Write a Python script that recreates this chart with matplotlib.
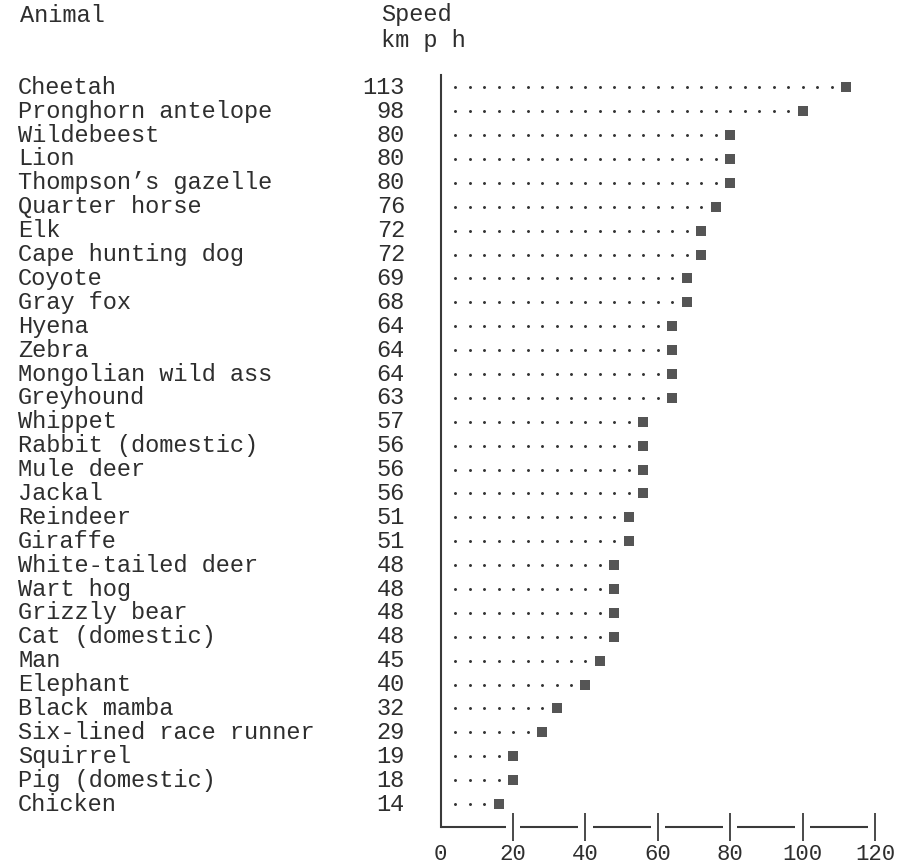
import numpy as np
import matplotlib
matplotlib.use("Agg")
import matplotlib.pyplot as plt
from matplotlib.transforms import blended_transform_factory

animals = ["Cheetah", "Pronghorn antelope", "Wildebeest", "Lion", "Thompson\u2019s gazelle",
           "Quarter horse", "Elk", "Cape hunting dog", "Coyote", "Gray fox", "Hyena",
           "Zebra", "Mongolian wild ass", "Greyhound", "Whippet", "Rabbit (domestic)",
           "Mule deer", "Jackal", "Reindeer", "Giraffe", "White-tailed deer", "Wart hog",
           "Grizzly bear", "Cat (domestic)", "Man", "Elephant", "Black mamba",
           "Six-lined race runner", "Squirrel", "Pig (domestic)", "Chicken"]
speeds = [113, 98, 80, 80, 80, 76, 72, 72, 69, 68, 64, 64, 64, 63, 57, 56, 56, 56,
          51, 51, 48, 48, 48, 48, 45, 40, 32, 29, 19, 18, 14]
xticks = [0, 20, 40, 60, 80, 100, 120]

W, H = 919, 865
text_col = "#2e2e2e"
line_col = "#3a3a3a"
font = "Liberation Mono"

fig = plt.figure(figsize=(W / 100, H / 100), dpi=100)
fig.patch.set_facecolor("white")
ax = fig.add_axes([440.7 / W, 1 - 827 / H, (875 - 440.7) / W, (827 - 75) / H])

# the original is a character-grid plot: one column = 4 km/h
step = 4
rows = np.arange(len(speeds))
pos = np.floor(np.array(speeds) / step + 0.5) * step
for r, p in zip(rows, pos):
    dots = np.arange(step, p, step)
    ax.scatter(dots, np.full(len(dots), r), s=4.5, color="#333333", marker="o",
               linewidths=0, zorder=2)
ax.scatter(pos, rows, s=52, marker="s", color="#555555", linewidths=0, zorder=3)

ax.set_xlim(0, 120)
ax.set_ylim(30.96, -0.515)

# axis styling
for side in ["top", "right", "bottom"]:
    ax.spines[side].set_visible(False)
ax.spines["left"].set_color(line_col)
ax.spines["left"].set_linewidth(1.5)
ax.set_yticks([])
ax.set_xticks(xticks)
ax.set_xticklabels([str(t) for t in xticks], fontfamily=font, fontsize=16, color=text_col)
ax.tick_params(axis="x", direction="inout", length=20, width=1.3, color=line_col, pad=2)
ax.xaxis.get_major_ticks()[0].tick1line.set_visible(False)

# broken baseline between ticks
ybase = 30.96
for a, b in [(0, 18), (22, 38), (42, 58), (62, 78), (82, 98), (102, 118)]:
    ax.plot([a, b], [ybase, ybase], color=line_col, lw=1.5, clip_on=False,
            solid_capstyle="butt")

# row labels
tr = blended_transform_factory(fig.transFigure, ax.transData)
for r, (name, v) in enumerate(zip(animals, speeds)):
    ax.text(18 / W, r, name, transform=tr, ha="left", va="center",
            fontfamily=font, fontsize=17, color=text_col)
    ax.text(405 / W, r, str(v), transform=tr, ha="right", va="center",
            fontfamily=font, fontsize=17, color=text_col)

# headers
fig.text(20 / W, 1 - 15 / H, "Animal", ha="left", va="center",
         fontfamily=font, fontsize=17, color=text_col)
fig.text(381 / W, 1 - 15 / H, "Speed", ha="left", va="center",
         fontfamily=font, fontsize=17, color=text_col)
fig.text(381 / W, 1 - 40 / H, "km p h", ha="left", va="center",
         fontfamily=font, fontsize=17, color=text_col)

fig.savefig("out.png", dpi=100, facecolor="white")
